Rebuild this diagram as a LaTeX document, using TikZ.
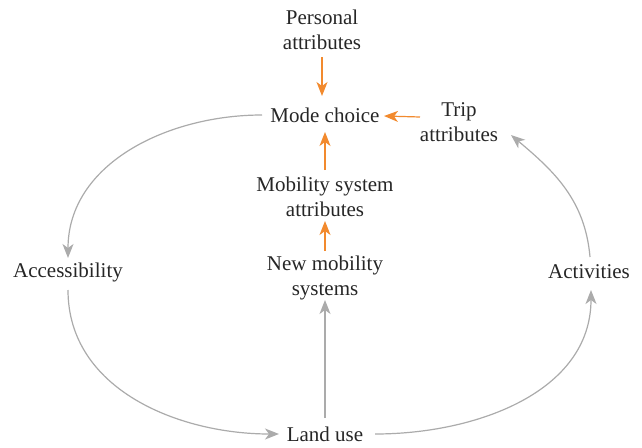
\documentclass[tikz,border=0pt]{standalone}
\usepackage{fontspec}
\setmainfont{Liberation Serif}
\usetikzlibrary{arrows.meta}
\definecolor{orng}{HTML}{F28A2E}
\definecolor{gry}{HTML}{ABABAB}
\begin{document}
\begin{tikzpicture}[x=1pt,y=-1pt,
  lbl/.style={align=center,inner sep=3pt,text=black!85,font=\fontsize{21}{25}\selectfont},
  oarr/.style={draw=orng,line width=1.2pt,-{Stealth[length=14pt,width=11pt,inset=4pt]}},
  garr/.style={draw=gry,line width=1.2pt,-{Stealth[length=14pt,width=11pt,inset=4pt]}}]
\useasboundingbox (0,0) rectangle (642,447);
\node[lbl] (pa) at (322,30) {Personal\\attributes};
\node[lbl] (mc) at (325,115) {Mode choice};
\node[lbl] (ta) at (459,122) {Trip\\attributes};
\node[lbl] (ms) at (325,197) {Mobility system\\attributes};
\node[lbl] (nm) at (325,278) {New mobility\\systems};
\node[lbl] (ac) at (68,272) {Accessibility};
\node[lbl] (av) at (589,272) {Activities};
\node[lbl] (lu) at (325,434) {Land use};
\coordinate (paS) at (322,57);
\coordinate (mcN) at (322,96);
\draw[oarr] (paS) -- (mcN);
\coordinate (msN) at (325,170);
\coordinate (mcS) at (325,132);
\draw[oarr] (msN) -- (mcS);
\coordinate (nmN) at (325,251);
\coordinate (msS) at (325,221);
\draw[oarr] (nmN) -- (msS);
\coordinate (taW) at (420,117);
\coordinate (mcE) at (384,116);
\draw[oarr] (taW) -- (mcE);
\coordinate (mcW) at (262,115);
\coordinate (acN) at (68,258);
\draw[garr] (mcW) to[out=180,in=90] (acN);
\coordinate (acS) at (68,290);
\coordinate (luW) at (279,434);
\draw[garr] (acS) to[out=-90,in=180] (luW);
\coordinate (luE) at (375,434);
\coordinate (avS) at (591,290);
\draw[garr] (luE) to[out=0,in=-90] (avS);
\coordinate (avN) at (590,257);
\coordinate (taE) at (511,135);
\draw[garr] (avN) to[out=95,in=-40] (taE);
\coordinate (luN) at (325,418);
\coordinate (nmS) at (325,300);
\draw[garr] (luN) -- (nmS);
\end{tikzpicture}
\end{document}
